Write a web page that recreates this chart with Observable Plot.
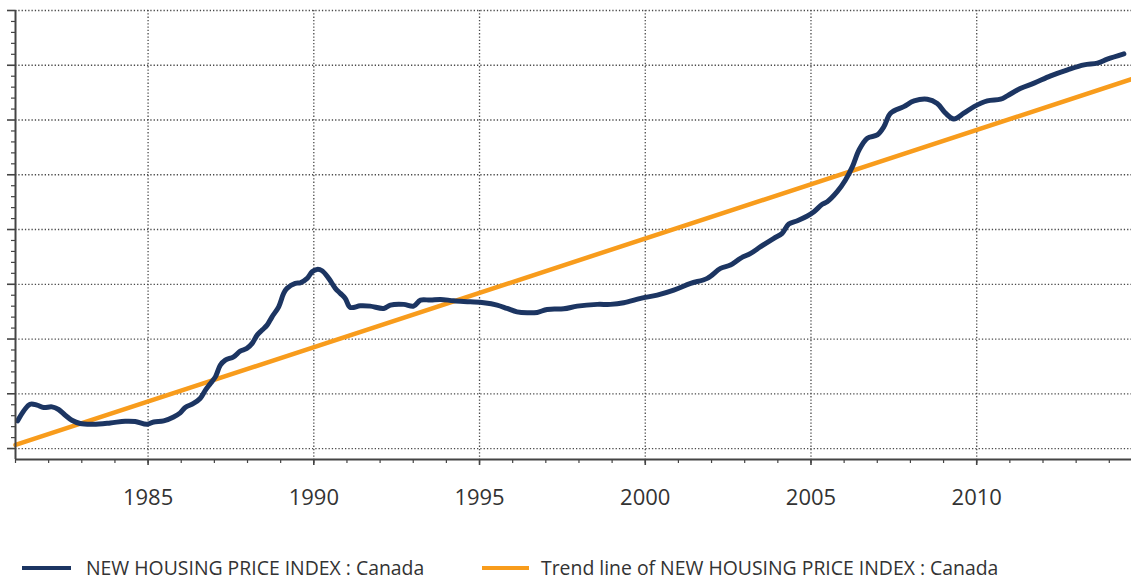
<!DOCTYPE html>
<html>
<head>
<meta charset="utf-8">
<script src="https://cdn.jsdelivr.net/npm/d3@7"></script>
<script src="https://cdn.jsdelivr.net/npm/@observablehq/plot@0.6"></script>
<style>
  html, body { margin: 0; padding: 0; background: #fff; }
  #wrap { position: relative; width: 1131px; height: 580px; font-family: "Open Sans", sans-serif; }
  #legend { position: absolute; left: 0; top: 555px; height: 26px; width: 1131px; color: #333; font-size: 19.4px; }
  .sw { position: absolute; top: 11px; height: 4px; }
  .lbl { position: absolute; top: 0; line-height: 26px; white-space: nowrap; }
</style>
</head>
<body>
<div id="wrap">
  <div id="chart"></div>
  <div id="legend"></div>
</div>
<script>
// Series: NEW HOUSING PRICE INDEX : Canada
const years = [1981.06,1981.44,1981.65,1981.85,1982.10,1982.30,1982.50,1982.70,1982.95,1983.35,1983.86,1984.31,1984.61,1984.97,1985.17,1985.47,1985.77,1985.97,1986.12,1986.37,1986.57,1986.73,1986.88,1987.03,1987.18,1987.33,1987.58,1987.78,1987.98,1988.14,1988.29,1988.44,1988.59,1988.74,1988.94,1989.09,1989.19,1989.44,1989.59,1989.80,1989.95,1990.10,1990.25,1990.45,1990.65,1990.80,1990.95,1991.10,1991.40,1991.70,1992.11,1992.31,1992.71,1993.01,1993.22,1993.52,1993.82,1994.22,1994.72,1995.13,1995.53,1995.83,1996.13,1996.44,1996.74,1997.04,1997.54,1997.95,1998.55,1998.95,1999.35,1999.86,2000.36,2000.86,2001.37,2001.87,2002.27,2002.57,2002.87,2003.18,2003.48,2003.88,2004.13,2004.33,2004.59,2004.89,2005.09,2005.34,2005.49,2005.79,2006.04,2006.25,2006.45,2006.70,2007.00,2007.20,2007.40,2007.80,2008.11,2008.51,2008.81,2009.06,2009.31,2009.61,2009.92,2010.32,2010.72,2010.92,2011.33,2011.73,2012.23,2012.74,2013.24,2013.64,2013.94,2014.44];
const values = [45.05,48.10,47.92,47.50,47.61,47.13,46.09,45.17,44.57,44.44,44.68,44.99,44.94,44.44,44.86,45.05,45.78,46.51,47.50,48.23,49.14,50.66,51.88,53.09,55.23,56.14,56.75,57.79,58.28,59.20,60.71,61.63,62.54,64.06,65.89,68.34,69.25,70.16,70.27,71.08,72.29,72.72,72.47,71.08,69.25,68.34,67.42,65.78,66.07,66.01,65.59,66.20,66.33,66.01,67.11,67.11,67.24,66.98,66.80,66.62,66.20,65.59,64.97,64.79,64.86,65.41,65.52,66.01,66.33,66.33,66.62,67.42,68.03,68.94,70.16,71.08,72.91,73.51,74.74,75.65,76.86,78.39,79.31,81.00,81.61,82.47,83.25,84.61,85.08,86.91,89.05,91.48,94.53,96.67,97.28,98.79,101.24,102.45,103.49,103.80,103.00,101.24,100.20,101.24,102.45,103.49,103.80,104.41,105.81,106.73,108.06,109.16,110.07,110.38,111.11,112.08];

// Trend line of NEW HOUSING PRICE INDEX : Canada
const trendYears = [1981.0, 2014.67];
const trendValues = [40.66, 107.46];

// Axis ticks
const xLabelTicks = [1985, 1990, 1995, 2000, 2005, 2010];
const xMinorTicks = d3.range(1981, 2015, 1);
const yMajorTicks = [40, 50, 60, 70, 80, 90, 100, 110, 120];
const yMinorTicks = d3.range(42, 120, 2).filter(v => v % 10 !== 0);

const seriesName = "NEW HOUSING PRICE INDEX : Canada";
const trendName = "Trend line of NEW HOUSING PRICE INDEX : Canada";
const blue = "#1c3562";
const orange = "#f89c1c";

const series = years.map((y, i) => ({year: y, value: values[i]}));
const trend = trendYears.map((y, i) => ({year: y, value: trendValues[i]}));

const chart = Plot.plot({
  width: 1131,
  height: 530,
  marginLeft: 15,
  marginRight: 0,
  marginTop: 10,
  marginBottom: 71,
  style: {fontFamily: "'Open Sans', sans-serif", color: "#333", background: "#fff"},
  x: {domain: [1981, 2014.67], label: null},
  y: {domain: [38, 120], label: null},
  marks: [
    Plot.gridX(xLabelTicks, {stroke: "#4a4a4a", strokeOpacity: 1, strokeWidth: 1.3, strokeDasharray: "1.3,2"}),
    Plot.gridY(yMajorTicks, {stroke: "#4a4a4a", strokeOpacity: 1, strokeWidth: 1.3, strokeDasharray: "1.3,2"}),
    Plot.axisY(yMinorTicks, {tickSize: 4, tickFormat: () => "", label: null, stroke: "#444", strokeWidth: 1.2}),
    Plot.axisY(yMajorTicks, {tickSize: 8, tickFormat: () => "", label: null, stroke: "#444", strokeWidth: 1.6}),
    Plot.axisX(xMinorTicks, {tickSize: 4, tickFormat: () => "", label: null, stroke: "#444", strokeWidth: 1.2}),
    Plot.axisX(xLabelTicks, {tickSize: 6, tickFormat: d => String(d), label: null, stroke: "#444", strokeWidth: 1.6, fontSize: 22, tickPadding: 24, fill: "#333"}),
    Plot.line(trend, {x: "year", y: "value", stroke: orange, strokeWidth: 4.5}),
    Plot.line(series, {x: "year", y: "value", stroke: blue, strokeWidth: 5, curve: "catmull-rom"}),
    Plot.ruleX([1981], {stroke: "#444", strokeWidth: 2}),
    Plot.ruleY([38], {stroke: "#444", strokeWidth: 2})
  ]
});
document.getElementById("chart").appendChild(chart);

const legend = document.getElementById("legend");
[[seriesName, blue, 22, 71, 86], [trendName, orange, 482, 529, 541]].forEach(([name, color, s0, s1, t0]) => {
  const sw = document.createElement("div");
  sw.className = "sw";
  sw.style.left = s0 + "px";
  sw.style.width = (s1 - s0) + "px";
  sw.style.background = color;
  const label = document.createElement("div");
  label.className = "lbl";
  label.style.left = t0 + "px";
  label.textContent = name;
  legend.appendChild(sw);
  legend.appendChild(label);
});
</script>
</body>
</html>
